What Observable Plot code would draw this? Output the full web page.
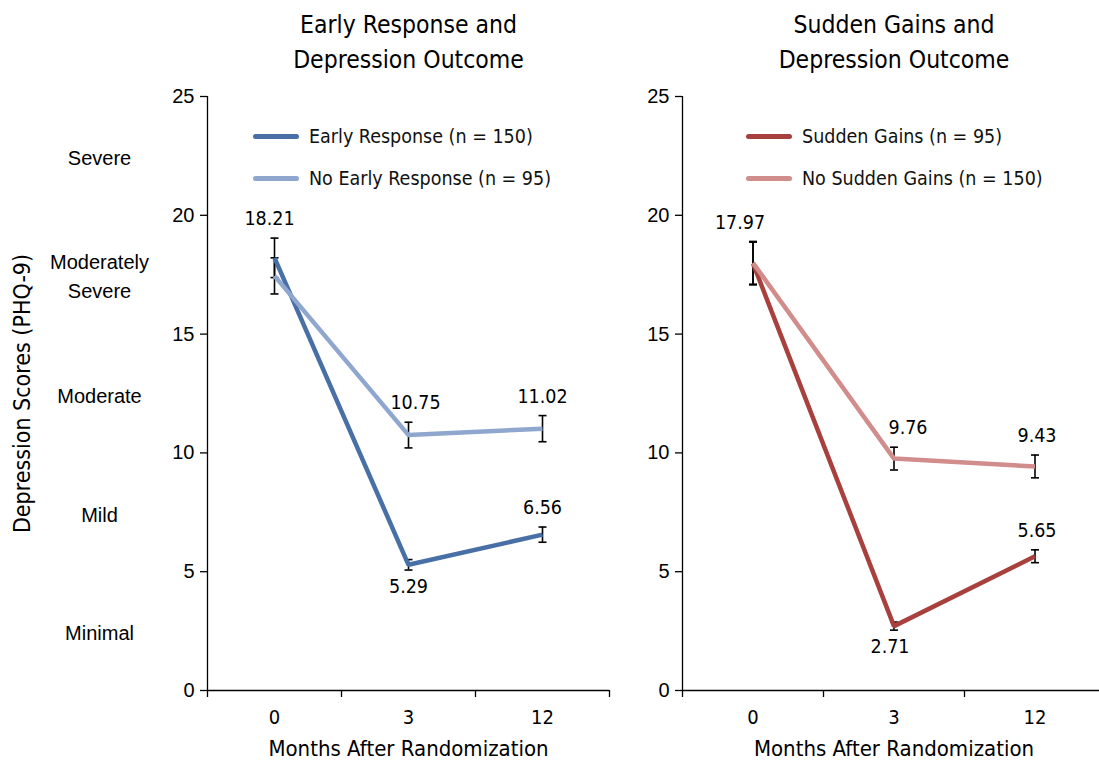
<!DOCTYPE html>
<html>
<head>
<meta charset="utf-8">
<script src="https://cdn.jsdelivr.net/npm/d3@7"></script>
<script src="https://cdn.jsdelivr.net/npm/@observablehq/plot@0.6"></script>
<style>
  html, body { margin: 0; padding: 0; background: #fff; overflow: hidden; }
  #wrap { position: relative; width: 1099px; height: 768px; overflow: hidden; background: #fff; }
  .panel { position: absolute; top: 0; }
  .legend { position: absolute; font-family: 'Liberation Sans Narrow', 'DejaVu Sans Condensed', sans-serif; font-stretch: condensed; font-size: 19.5px; color: #111; }
  .legend .item { display: flex; align-items: center; height: 42px; }
  .legend .swatch { width: 46px; height: 5px; border-radius: 3px; margin-right: 10px; }
</style>
</head>
<body>
<div id="wrap"></div>
<script>
// ---------- data ----------
const months = ["0", "3", "12"];
const yTicks = [0, 5, 10, 15, 20, 25];
const severityLabels = ["Minimal", "Mild", "Moderate", "Moderately\nSevere", "Severe"];
const severityLow  = [0, 5, 10, 15, 20];
const severityHigh = [5, 10, 15, 20, 25];

const leftTitle = "Early Response and\nDepression Outcome";
const rightTitle = "Sudden Gains and\nDepression Outcome";
const xLabel = "Months After Randomization";
const yLabel = "Depression Scores (PHQ-9)";

const leftSeries = ["Early Response (n = 150)", "No Early Response (n = 95)"];
const earlyResponse      = [18.21, 5.29, 6.56];
const earlyResponseErr   = [0.83, 0.22, 0.32];
const earlyResponseShown = [true, true, true];
const noEarlyResponse      = [17.45, 10.75, 11.02];
const noEarlyResponseErr   = [0.76, 0.54, 0.55];
const noEarlyResponseShown = [false, true, true];

const rightSeries = ["Sudden Gains (n = 95)", "No Sudden Gains (n = 150)"];
const suddenGains      = [17.97, 2.71, 5.65];
const suddenGainsErr   = [0.90, 0.17, 0.27];
const suddenGainsShown = [true, true, true];
const noSuddenGains      = [18.00, 9.76, 9.43];
const noSuddenGainsErr   = [0.90, 0.48, 0.48];
const noSuddenGainsShown = [false, true, true];

// ---------- styling / layout config ----------
const narrow = "'Liberation Sans Narrow', 'DejaVu Sans Condensed', sans-serif";
const regular = "'Liberation Sans', Arial, sans-serif";
const leftColors = ["#4870a6", "#8fa7cf"];
const rightColors = ["#a8413e", "#d18c8c"];
// labels drawn below the point; others above
const labelBelow = {"Early Response (n = 150)|3": true, "Sudden Gains (n = 95)|3": true};
// small horizontal nudges of value labels (px)
const labelNudge = {
  "Early Response (n = 150)|0": -5, "No Early Response (n = 95)|3": 7,
  "Sudden Gains (n = 95)|0": -13, "No Sudden Gains (n = 150)|3": 14,
  "No Sudden Gains (n = 150)|12": 2, "Sudden Gains (n = 95)|12": 2, "Sudden Gains (n = 95)|3": -4
};

function buildRows(names, values, errs, shown) {
  const rows = [];
  names.forEach((name, s) => {
    months.forEach((m, i) => {
      rows.push({
        series: name, month: m, xi: months.indexOf(m),
        value: values[s][i], lo: values[s][i] - errs[s][i], hi: values[s][i] + errs[s][i],
        shown: shown[s][i], key: name + "|" + m
      });
    });
  });
  return rows;
}

const leftRows = buildRows(leftSeries, [earlyResponse, noEarlyResponse],
  [earlyResponseErr, noEarlyResponseErr], [earlyResponseShown, noEarlyResponseShown]);
const rightRows = buildRows(rightSeries, [suddenGains, noSuddenGains],
  [suddenGainsErr, noSuddenGainsErr], [suddenGainsShown, noSuddenGainsShown]);

const severity = severityLabels.map((label, i) => ({label, low: severityLow[i], high: severityHigh[i]}));

const cap = {draw(ctx, size) { const r = Math.sqrt(size / Math.PI); ctx.moveTo(-r, 0); ctx.lineTo(r, 0); }};

function panel({rows, names, colors, title, width, marginLeft, marginRight, withSeverity}) {
  const marks = [
    Plot.ruleY([0], {stroke: "black", strokeWidth: 1.3}),
    Plot.ruleX([-0.5], {stroke: "black", strokeWidth: 1.3}),
    Plot.axisY(yTicks, {tickSize: 7, tickPadding: 6, fontSize: 20, fontFamily: regular, label: null, strokeWidth: 1.3}),
    Plot.axisX([-0.5, 0.5, 1.5, 2.5], {tickSize: 7, tickFormat: () => "", label: null, strokeWidth: 1.3}),
    Plot.axisX([0, 1, 2], {tickSize: 0, tickPadding: 19, tickFormat: i => months[i], fontSize: 20, fontFamily: narrow, label: null}),
    Plot.text([xLabel], {frameAnchor: "bottom", dy: 58, fontSize: 22, fontFamily: narrow, lineAnchor: "middle"}),
    Plot.text([title], {frameAnchor: "top", dy: -57, fontSize: 24.5, fontFamily: narrow, lineAnchor: "middle", lineHeight: 1.43}),
    // error bars
    Plot.ruleX(rows, {x: "xi", y1: "lo", y2: "hi", stroke: "black", strokeWidth: 1.6}),
    Plot.dot(rows, {x: "xi", y: "lo", symbol: cap, r: 4, stroke: "black", fill: "none", strokeWidth: 1.6}),
    Plot.dot(rows, {x: "xi", y: "hi", symbol: cap, r: 4, stroke: "black", fill: "none", strokeWidth: 1.6}),
  ];
  names.forEach(name => {
    marks.push(Plot.line(rows.filter(d => d.series === name), {
      x: "xi", y: "value", stroke: "series", strokeWidth: 4.5, strokeLinejoin: "miter", strokeLinecap: "butt"
    }));
  });
  rows.filter(d => d.shown).forEach(d => {
    const below = !!labelBelow[d.key];
    marks.push(Plot.text([d], {
      x: "xi", y: below ? "lo" : "hi", text: r => r.value.toFixed(2),
      dy: below ? 17 : -19, dx: labelNudge[d.key] || 0,
      fontSize: 19.5, fontFamily: narrow, lineAnchor: "middle"
    }));
  });
  if (withSeverity) {
    marks.push(Plot.text(severity, {
      y: d => (d.low + d.high) / 2, text: "label", frameAnchor: "left", dx: -108,
      fontSize: 20, fontFamily: regular, lineHeight: 1.45, textAnchor: "middle", lineAnchor: "middle"
    }));
    marks.push(Plot.text([yLabel], {
      frameAnchor: "left", dx: -185, rotate: -90, fontSize: 23, fontFamily: narrow,
      textAnchor: "middle", lineAnchor: "middle"
    }));
  }
  const svg = Plot.plot({
    width, height: 768,
    marginLeft, marginRight, marginTop: 96, marginBottom: 78,
    style: {background: "transparent", color: "black", overflow: "visible"},
    x: {type: "linear", domain: [-0.5, 2.5], axis: null},
    y: {domain: [0, 25], axis: null},
    color: {domain: names, range: colors},
    marks
  });
  svg.classList.add("panel");
  return svg;
}

function legend(names, colors, left, top) {
  const div = document.createElement("div");
  div.className = "legend";
  div.style.left = left + "px";
  div.style.top = top + "px";
  names.forEach((n, i) => {
    const item = document.createElement("div");
    item.className = "item";
    const sw = document.createElement("div");
    sw.className = "swatch";
    sw.style.background = colors[i];
    const t = document.createElement("span");
    t.textContent = n;
    item.appendChild(sw); item.appendChild(t);
    div.appendChild(item);
  });
  return div;
}

const wrap = document.getElementById("wrap");
const leftSvg = panel({rows: leftRows, names: leftSeries, colors: leftColors, title: leftTitle,
  width: 640, marginLeft: 207, marginRight: 31, withSeverity: true});
leftSvg.style.left = "0px";
const rightSvg = panel({rows: rightRows, names: rightSeries, colors: rightColors, title: rightTitle,
  width: 480, marginLeft: 42, marginRight: 15, withSeverity: false});
rightSvg.style.left = "640px";
wrap.appendChild(leftSvg);
wrap.appendChild(rightSvg);
wrap.appendChild(legend(leftSeries, leftColors, 253, 115));
wrap.appendChild(legend(rightSeries, rightColors, 746, 115));
</script>
</body>
</html>
